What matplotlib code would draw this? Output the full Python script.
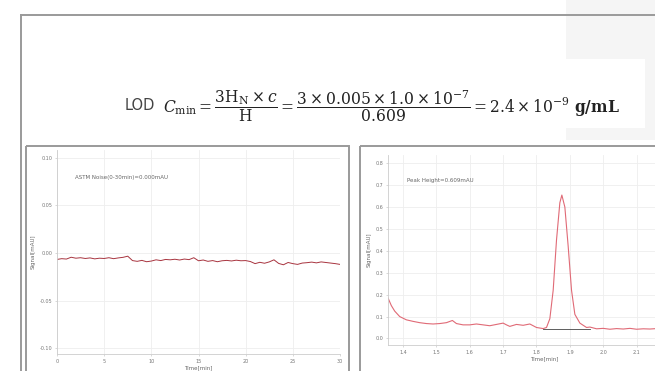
import matplotlib
matplotlib.use("Agg")
import matplotlib.pyplot as plt
from matplotlib.patches import Rectangle
from matplotlib.lines import Line2D

# === data ===
noise_time = [i * 0.5 for i in range(61)]
noise_signal = [
    -0.0068, -0.0060, -0.0064, -0.0045, -0.0055, -0.0050, -0.0058, -0.0052,
    -0.0062, -0.0055, -0.0058, -0.0050, -0.0060, -0.0052, -0.0046, -0.0034,
    -0.0080, -0.0088, -0.0078, -0.0092, -0.0085, -0.0072, -0.0080, -0.0068,
    -0.0072, -0.0066, -0.0074, -0.0064, -0.0070, -0.0050, -0.0082, -0.0074,
    -0.0088, -0.0080, -0.0092, -0.0082, -0.0078, -0.0084, -0.0076, -0.0082,
    -0.0080, -0.0090, -0.0112, -0.0098, -0.0108, -0.0094, -0.0072, -0.0110,
    -0.0124, -0.0100, -0.0112, -0.0120, -0.0106, -0.0102, -0.0096, -0.0104,
    -0.0094, -0.0100, -0.0106, -0.0112, -0.0120,
]
noise_xticks = [0, 5, 10, 15, 20, 25, 30]
noise_yticks = [-0.10, -0.05, 0.00, 0.05, 0.10]

peak_time = [
    1.355, 1.365, 1.375, 1.39, 1.41, 1.43, 1.45, 1.47, 1.49, 1.51, 1.53, 1.548,
    1.56, 1.58, 1.60, 1.62, 1.64, 1.66, 1.68, 1.70, 1.71, 1.72, 1.74, 1.76,
    1.78, 1.80, 1.82, 1.83, 1.84, 1.85, 1.86, 1.87, 1.876, 1.885, 1.895, 1.905,
    1.915, 1.93, 1.95, 1.96, 1.98, 2.00, 2.02, 2.04, 2.06, 2.08, 2.10, 2.12,
    2.14, 2.16, 2.18, 2.20, 2.22, 2.24, 2.26, 2.28,
]
peak_signal = [
    0.185, 0.150, 0.125, 0.100, 0.085, 0.078, 0.072, 0.068, 0.066, 0.068, 0.072, 0.082,
    0.068, 0.062, 0.062, 0.066, 0.062, 0.058, 0.064, 0.070, 0.062, 0.055, 0.064, 0.060,
    0.066, 0.050, 0.045, 0.050, 0.090, 0.220, 0.450, 0.620, 0.655, 0.600, 0.420, 0.220,
    0.110, 0.070, 0.050, 0.052, 0.044, 0.046, 0.042, 0.045, 0.043, 0.046, 0.042, 0.044,
    0.043, 0.045, 0.042, 0.044, 0.043, 0.045, 0.042, 0.044,
]
peak_xticks = [1.4, 1.5, 1.6, 1.7, 1.8, 1.9, 2.0, 2.1]
peak_yticks = [0.0, 0.1, 0.2, 0.3, 0.4, 0.5, 0.6, 0.7, 0.8]
baseline_x = [1.82, 1.96]
baseline_y = [0.042, 0.042]

W, H = 655, 371
fig = plt.figure(figsize=(W / 100, H / 100), dpi=100)
fig.patch.set_facecolor("white")


def px(x0, y0, x1, y1):
    # pixel box (top-left origin) -> figure fraction rect
    return [x0 / W, 1 - y1 / H, (x1 - x0) / W, (y1 - y0) / H]


bg = fig.add_axes([0, 0, 1, 1])
bg.set_xlim(0, W)
bg.set_ylim(H, 0)
bg.axis("off")
bg.add_patch(Rectangle((566, 0), 89, 140, color="#f5f5f5", lw=0))
bg.add_patch(Rectangle((71, 59), 574, 69, color="white", lw=0))
bg.add_line(Line2D([21, 655], [15, 15], color="#9a9a9a", lw=1.4))
bg.add_line(Line2D([21, 21], [15, 371], color="#9a9a9a", lw=1.4))
bg.add_patch(Rectangle((26, 146), 323, 240, fill=False, ec="#9a9a9a", lw=1.4))
bg.add_patch(Rectangle((360, 146), 320, 240, fill=False, ec="#9a9a9a", lw=1.4))

# formula
bg.text(125, 106, "LOD", fontsize=10.5, family="DejaVu Sans", color="#444444",
        va="center", ha="left")
plt.rcParams["mathtext.fontset"] = "dejavuserif"
bg.text(163, 106,
        r"$C_{\min} = \dfrac{3\mathrm{H_N} \times c}{\mathrm{H}} = "
        r"\dfrac{3\times0.005\times1.0\times10^{-7}}{0.609} = "
        r"2.4\times10^{-9}\ \mathbf{g/mL}$",
        fontsize=11.2, color="#222222", va="center", ha="left")

# panel titles (figure texts so they sit on top of the axes)
fig.text(75 / W, 1 - 178 / H, "ASTM Noise(0-30min)=0.000mAU", fontsize=4,
         color="#666666", va="center", ha="left")
fig.text(407 / W, 1 - 181 / H, "Peak Height=0.609mAU", fontsize=4,
         color="#666666", va="center", ha="left")

tick_kw = dict(labelsize=3.5, labelcolor="#777777", length=1.5, width=0.4,
               color="#bbbbbb", pad=2)


def style(ax):
    for s in ["top", "right"]:
        ax.spines[s].set_visible(False)
    for s in ["left", "bottom"]:
        ax.spines[s].set_color("#cccccc")
        ax.spines[s].set_linewidth(0.6)
    ax.grid(True, color="#eeeeee", lw=0.6)
    ax.set_axisbelow(True)
    ax.tick_params(**tick_kw)


# === left: noise ===
ax1 = fig.add_axes(px(57, 150, 340, 354))
ax1.plot(noise_time, noise_signal, color="#a8343f", lw=0.7)
ax1.set_xlim(0, 30)
ax1.set_ylim(-0.106, 0.108)
ax1.set_xticks(noise_xticks)
ax1.set_yticks(noise_yticks)
ax1.set_yticklabels([f"{v:.2f}" for v in noise_yticks])
ax1.set_xlabel("Time[min]", fontsize=4, color="#666666", labelpad=1)
ax1.set_ylabel("Signal[mAU]", fontsize=4, color="#666666", labelpad=3)
style(ax1)

# === right: peak ===
ax2 = fig.add_axes(px(388, 155, 700, 345))
ax2.plot(peak_time, peak_signal, color="#e06a76", lw=0.8)
ax2.plot(baseline_x, baseline_y, color="#444444", lw=0.6)
ax2.set_xlim(1.355, 2.29)
ax2.set_ylim(-0.03, 0.838)
ax2.set_xticks(peak_xticks)
ax2.set_yticks(peak_yticks)
ax2.set_yticklabels([f"{v:.1f}" for v in peak_yticks])
ax2.set_xlabel("Time[min]", fontsize=4, color="#666666", labelpad=1)
ax2.set_ylabel("Signal[mAU]", fontsize=4, color="#666666", labelpad=3)
style(ax2)

fig.savefig("out.png", dpi=100)
